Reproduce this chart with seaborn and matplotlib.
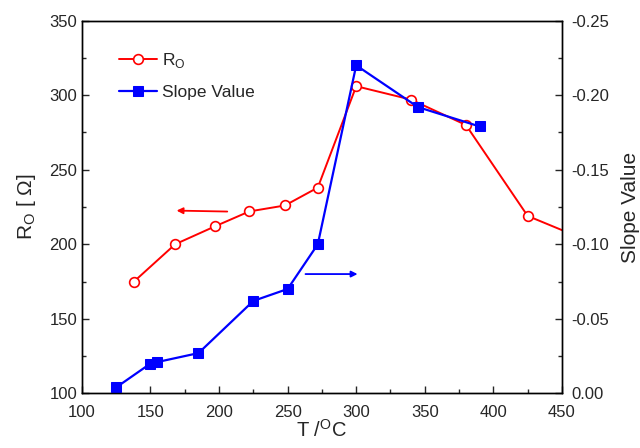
import matplotlib
matplotlib.use("Agg")
import matplotlib.pyplot as plt
import seaborn as sns
from matplotlib.ticker import MultipleLocator

# R_O vs temperature (left axis)
temp_r = [138, 168, 197, 222, 248, 272, 300, 340, 380, 425, 475]
r_o = [175, 200, 212, 222, 226, 238, 306, 297, 280, 219, 200]

# slope value vs temperature (right axis, inverted)
temp_s = [125, 150, 155, 185, 225, 250, 272, 300, 345, 390]
slope = [-0.004, -0.020, -0.021, -0.027, -0.062, -0.070, -0.100, -0.220, -0.192, -0.179]

sns.set_theme(style="ticks")
plt.rcParams['font.family'] = ['Liberation Sans', 'DejaVu Sans']
plt.rcParams['mathtext.fontset'] = 'custom'
plt.rcParams['mathtext.rm'] = 'Liberation Sans'
plt.rcParams['axes.unicode_minus'] = False
plt.rcParams['xtick.direction'] = 'in'
plt.rcParams['ytick.direction'] = 'in'

fig = plt.figure(figsize=(6.4, 4.48), dpi=100)
ax = fig.add_axes([0.128, 0.122, 0.75, 0.832])

sns.lineplot(x=temp_r, y=r_o, ax=ax, color='red', marker='o', markersize=7,
             markerfacecolor='white', markeredgecolor='red', markeredgewidth=1.2,
             linewidth=1.4, label=r'R$_\mathregular{O}$', legend=False)
ax.set_xlim(100, 450)
ax.set_ylim(100, 350)
ax.xaxis.set_major_locator(MultipleLocator(50))
ax.xaxis.set_minor_locator(MultipleLocator(25))
ax.yaxis.set_major_locator(MultipleLocator(50))
ax.yaxis.set_minor_locator(MultipleLocator(25))
ax.tick_params(which='major', length=5, width=1, labelsize=12, top=False)
ax.tick_params(which='minor', length=3, width=1, top=False)
ax.tick_params(axis='x', which='major', pad=8.5)
ax.set_xlabel(r'T /$^\mathregular{O}$C', fontsize=14.5, labelpad=-1)
ax.set_ylabel(r'R$_\mathregular{O}$ [ $\Omega$]', fontsize=15, labelpad=8)

ax2 = ax.twinx()
sns.lineplot(x=temp_s, y=slope, ax=ax2, color='blue', marker='s', markersize=7,
             markeredgecolor='blue', linewidth=1.6, label='Slope Value', legend=False)
ax2.set_ylim(0, -0.25)
ax2.yaxis.set_major_locator(MultipleLocator(0.05))
ax2.yaxis.set_minor_locator(MultipleLocator(0.025))
ax2.yaxis.set_major_formatter(plt.FormatStrFormatter('%.2f'))
ax2.tick_params(which='major', length=5, width=1, labelsize=12, pad=7)
ax2.tick_params(which='minor', length=3, width=1)
ax2.set_ylabel('Slope Value', fontsize=15, labelpad=8)

for a in (ax, ax2):
    for s in a.spines.values():
        s.set_linewidth(1.0)
        s.set_color('black')

# direction arrows
ax.annotate('', xy=(167, 222.6), xytext=(208, 221.9),
            arrowprops=dict(arrowstyle='-|>', color='red', lw=1.3, mutation_scale=9))
ax2.annotate('', xy=(303, -0.080), xytext=(261, -0.080),
             arrowprops=dict(arrowstyle='-|>', color='blue', lw=1.3, mutation_scale=9))

h1, l1 = ax.get_legend_handles_labels()
h2, l2 = ax2.get_legend_handles_labels()
ax.legend(h1 + h2, l1 + l2, loc='upper left', bbox_to_anchor=(0.044, 0.96),
          frameon=False, fontsize=12.5, handlelength=2.2, handletextpad=0.3,
          labelspacing=0.85)

fig.savefig('out.png', dpi=100)
